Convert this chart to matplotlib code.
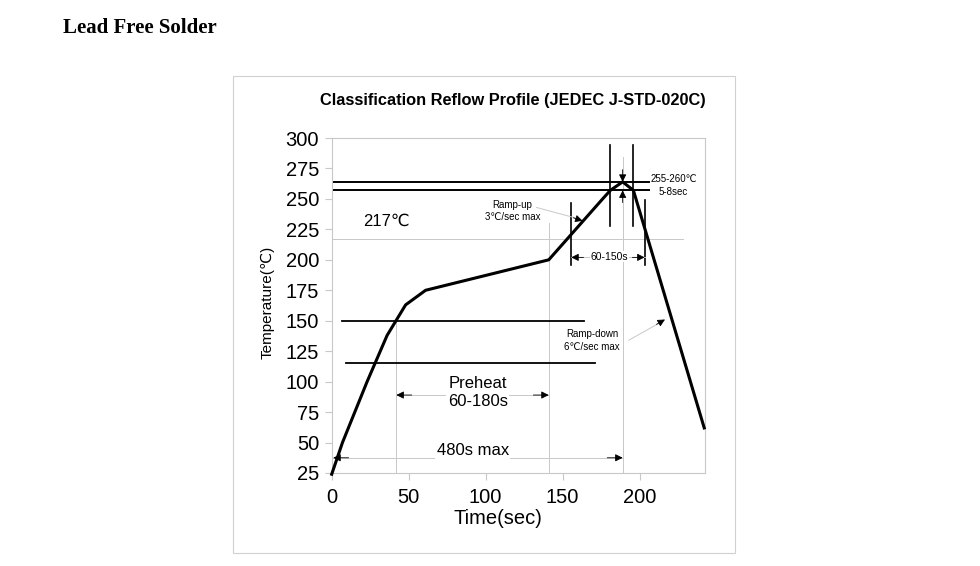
import matplotlib.pyplot as plt
from matplotlib.patches import Rectangle

plt.rcParams['font.family'] = ['Liberation Sans', 'DejaVu Sans']

# reflow profile curve
time_s = [0, 7, 23, 36, 48, 61, 141, 176, 181, 189, 196, 242]
temp_c = [24, 50, 100, 138, 163, 175, 200, 250, 257, 264, 257, 62]

x_ticks = [0, 50, 100, 150, 200]
y_ticks = [25, 50, 75, 100, 125, 150, 175, 200, 225, 250, 275, 300]

# reference levels (temperature) and times
peak_hi, peak_lo = 264, 257
liquidus = 217
soak_hi, soak_lo = 150, 115
t_soak_start, t_soak_end, t_peak = 42, 141, 189
t_liq_start, t_liq_end = 155.6, 203.3
t_peak_start, t_peak_end = 181, 195.5

grey = '#c8c8c8'

fig = plt.figure(figsize=(9.8, 5.66), dpi=100)
fig.patches.append(Rectangle((233 / 980, 1 - 553 / 566), 502 / 980, 477 / 566,
                             transform=fig.transFigure, fill=False,
                             edgecolor='#d0d0d0', lw=0.8))
fig.text(63 / 980, 1 - 28 / 566, 'Lead Free Solder', family='Liberation Serif',
         fontweight='bold', fontsize=15, ha='left', va='center')
fig.text(513 / 980, 1 - 100 / 566, 'Classification Reflow Profile (JEDEC J-STD-020C)',
         fontweight='bold', fontsize=11.8, ha='center', va='center')

ax = fig.add_axes([331.7 / 980, 1 - 473 / 566, (705 - 331.7) / 980, (473 - 138) / 566])
ax.set_xlim(0, 242.5)
ax.set_ylim(25, 300)
ax.set_xticks(x_ticks)
ax.set_yticks(y_ticks)
ax.tick_params(axis='both', colors=grey, labelcolor='black', labelsize=14.5, length=5)
ax.tick_params(axis='y', pad=4)
ax.tick_params(axis='x', pad=6)
for s in ax.spines.values():
    s.set_color(grey)
    s.set_linewidth(0.8)

fig.text(498 / 980, 1 - 518 / 566, 'Time(sec)', fontsize=14.5, ha='center', va='center')
fig.text(268 / 980, 1 - 302 / 566, 'Temperature(℃)', fontsize=11, rotation=90,
         ha='center', va='center')

# thin guide lines
ax.plot([0, 228], [liquidus, liquidus], color=grey, lw=0.7)
ax.plot([t_soak_start] * 2, [25, soak_hi], color=grey, lw=0.7)
ax.plot([t_soak_end] * 2, [25, 230], color=grey, lw=0.7)
ax.plot([t_peak] * 2, [25, 284], color=grey, lw=0.7)

# black level lines
ax.plot([0, 206], [peak_hi, peak_hi], color='black', lw=1.4)
ax.plot([0, 206], [peak_lo, peak_lo], color='black', lw=1.4)
ax.plot([6.5, 164], [soak_hi, soak_hi], color='black', lw=1.3)
ax.plot([9, 171], [soak_lo, soak_lo], color='black', lw=1.3)
ax.plot([t_peak_start] * 2, [228, 294], color='black', lw=1.2)
ax.plot([t_peak_end] * 2, [228, 294], color='black', lw=1.2)
ax.plot([t_liq_start] * 2, [196, 247], color='black', lw=1.2)
ax.plot([t_liq_end] * 2, [196, 249], color='black', lw=1.2)

ax.plot(time_s, temp_c, color='black', lw=2.2, clip_on=False, zorder=5)


def head(tip, tail):
    ax.annotate('', xy=tip, xytext=tail,
                arrowprops=dict(arrowstyle='-|>', color='black', lw=0.6,
                                mutation_scale=11, shrinkA=0, shrinkB=0))


# preheat span
ax.plot([t_soak_start, t_soak_end], [89, 89], color=grey, lw=0.7)
head((t_soak_start, 89), (t_soak_start + 10, 89))
head((t_soak_end, 89), (t_soak_end - 10, 89))
ax.text(94.8, 91.4, 'Preheat\n60-180s', fontsize=12, ha='center', va='center',
        linespacing=1.25, bbox=dict(facecolor='white', edgecolor='none', pad=1))

# total time span
ax.plot([0, t_peak], [37.5, 37.5], color=grey, lw=0.7)
head((1, 37.5), (11, 37.5))
head((t_peak, 37.5), (t_peak - 10, 37.5))
ax.text(91.6, 43.5, '480s max', fontsize=12, ha='center', va='center',
        bbox=dict(facecolor='white', edgecolor='none', pad=1))

# time above liquidus
ax.plot([t_liq_start, t_liq_end], [202, 202], color=grey, lw=0.7)
head((t_liq_start, 202), (t_liq_start + 8, 202))
head((t_liq_end, 202), (t_liq_end - 8, 202))
ax.text(180.4, 202.7, '60-150s', fontsize=7.5, ha='center', va='center',
        bbox=dict(facecolor='white', edgecolor='none', pad=0.5))

# peak band
head((t_peak, peak_hi), (t_peak, peak_hi + 10))
head((t_peak, peak_lo), (t_peak, peak_lo - 10))
ax.text(222, 261, '255-260℃\n5-8sec', fontsize=7, ha='center', va='center', linespacing=1.3)

ax.text(20.5, 232, '217℃', fontsize=12, ha='left', va='center')

# ramp annotations
ax.plot([133, 158], [243, 234.5], color=grey, lw=0.7)
head((163, 232), (157, 234.5))
ax.text(117.5, 240, 'Ramp-up\n3℃/sec max', fontsize=7, ha='center', va='center', linespacing=1.35)

ax.plot([193, 212], [134, 147.5], color=grey, lw=0.7)
head((216.5, 151), (211, 147))
ax.text(169.2, 133.6, 'Ramp-down\n6℃/sec max', fontsize=7, ha='center', va='center', linespacing=1.35)

fig.savefig('out.png', dpi=100)
